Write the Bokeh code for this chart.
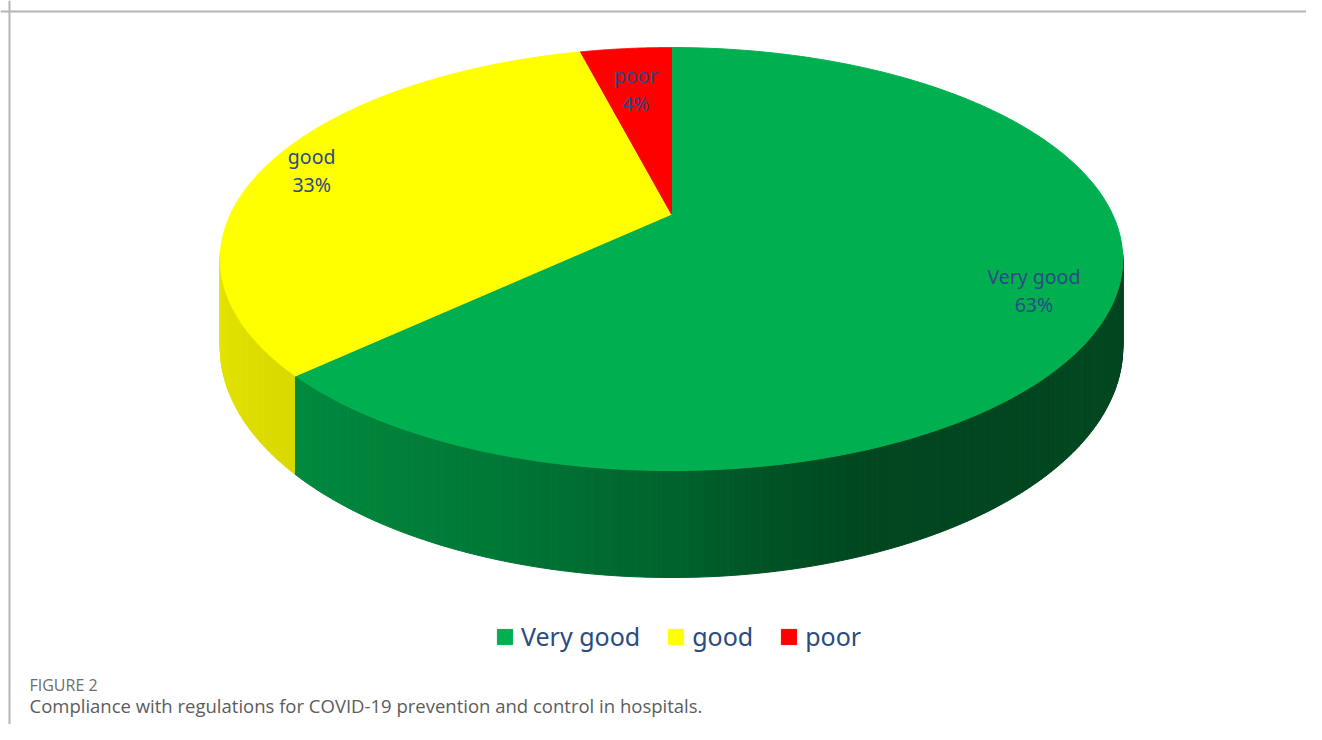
import numpy as np
from bokeh.plotting import figure
from bokeh.models import Range1d, Span, Label, Legend, LegendItem, ColumnDataSource
from bokeh.core.properties import value
from bokeh.embed import file_html
from bokeh.resources import INLINE

# ---- data ----
categories = ["Very good", "good", "poor"]
shares = [63, 33, 4]
colors = ["#00B050", "#FFFF00", "#FF0000"]
base_rgb = [(0, 176, 80), (255, 255, 0), (255, 0, 0)]
pct_labels = ["63%", "33%", "4%"]

# label placement (fraction of radius) per slice - style only
label_r = [0.82, 0.90, 0.78]

W, H = 1306, 724
p = figure(width=W, height=H, output_backend="svg", toolbar_location=None,
           x_range=Range1d(0, W), y_range=Range1d(H, 0),
           min_border=0, outline_line_color=None)
p.axis.visible = False
p.grid.visible = False
p.background_fill_color = "white"

# ---- 3D pie projection ----
CX, CY = 671.0, 213.7
A, B = 441.0, 202.0
U = 0.212
DEPTH = 84.3

def proj(t_deg, r=1.0):
    t = np.radians(t_deg)
    k = 1.0 / (1.0 + U * np.cos(t))
    return CX + A * r * np.sin(t) * k, CY - B * r * np.cos(t) * k, k

total = float(sum(shares))
bounds = np.concatenate([[0.0], np.cumsum(shares) / total * 360.0])

def slice_index(t):
    for i in range(len(shares)):
        if bounds[i] <= t < bounds[i + 1]:
            return i
    return len(shares) - 1

# side wall shading
kt = [100, 150, 160, 170, 178, 200, 227, 260]
kf = [0.41, 0.40, 0.41, 0.47, 0.55, 0.69, 0.79, 0.86]

wx, wy, wc = [], [], []
step = 0.5
ts = np.arange(100.0, 260.0, step)
for t0 in ts:
    t1 = t0 + step
    tm = 0.5 * (t0 + t1)
    i = slice_index(tm)
    f = float(np.interp(tm, kt, kf))
    if i == 1:
        f = 0.3 + 0.7 * f
    r, g, b = base_rgb[i]
    col = "#%02x%02x%02x" % (int(r * f), int(g * f), int(b * f))
    x0, y0, k0 = proj(t0)
    x1, y1, k1 = proj(t1)
    wx.append([x0, x1, x1, x0])
    wy.append([y0, y1, y1 + DEPTH * k1, y0 + DEPTH * k0])
    wc.append(col)

p.patches(wx, wy, fill_color=wc, line_color=wc, line_width=1)

# top faces
renderers = []
for i in range(len(shares)):
    tt = np.linspace(bounds[i], bounds[i + 1], 200)
    xs, ys, _ = proj(tt)
    px = np.concatenate([[CX], xs])
    py = np.concatenate([[CY], ys])
    r = p.patch(px, py, fill_color=colors[i], line_color=colors[i], line_width=1)
    renderers.append(r)

# data labels
lab_col = "#2A4B82"
for i in range(len(shares)):
    tm = 0.5 * (bounds[i] + bounds[i + 1])
    lx, ly, _ = proj(tm, label_r[i])
    src = ColumnDataSource(dict(x=[lx], y=[ly], a=[categories[i]], b=[pct_labels[i]]))
    p.text(x="x", y="y", text="a", source=src, text_align="center", text_baseline="middle",
           y_offset=-10, text_font=value("Noto Sans"), text_font_size="19.5px", text_color=lab_col)
    p.text(x="x", y="y", text="b", source=src, text_align="center", text_baseline="middle",
           y_offset=18, text_font=value("Noto Sans"), text_font_size="19.5px", text_color=lab_col)

# legend
legend = Legend(items=[LegendItem(label=categories[i], renderers=[renderers[i]]) for i in range(3)],
                orientation="horizontal", location=(495, 71),
                glyph_width=19, glyph_height=19, label_standoff=7, spacing=26,
                label_text_font="Noto Sans", label_text_font_size="25px",
                label_text_color=lab_col, border_line_color=None, background_fill_alpha=0,
                padding=0, margin=0)
p.add_layout(legend, "center")

# frame lines
p.add_layout(Span(location=11, dimension="width", line_color="#b4b4b4", line_width=2))
p.add_layout(Span(location=9, dimension="height", line_color="#b4b4b4", line_width=2))

# caption
p.add_layout(Label(x=29, y=684, text="FIGURE 2", text_font="Open Sans",
                   text_font_size="16px", text_color="#6e6e6e", text_baseline="middle"))
p.add_layout(Label(x=29, y=705, text="Compliance with regulations for COVID-19 prevention and control in hospitals.",
                   text_font="Open Sans", text_font_size="18.5px", text_color="#5c5c5c",
                   text_baseline="middle"))

open("out.html", "w").write(file_html(p, INLINE))
